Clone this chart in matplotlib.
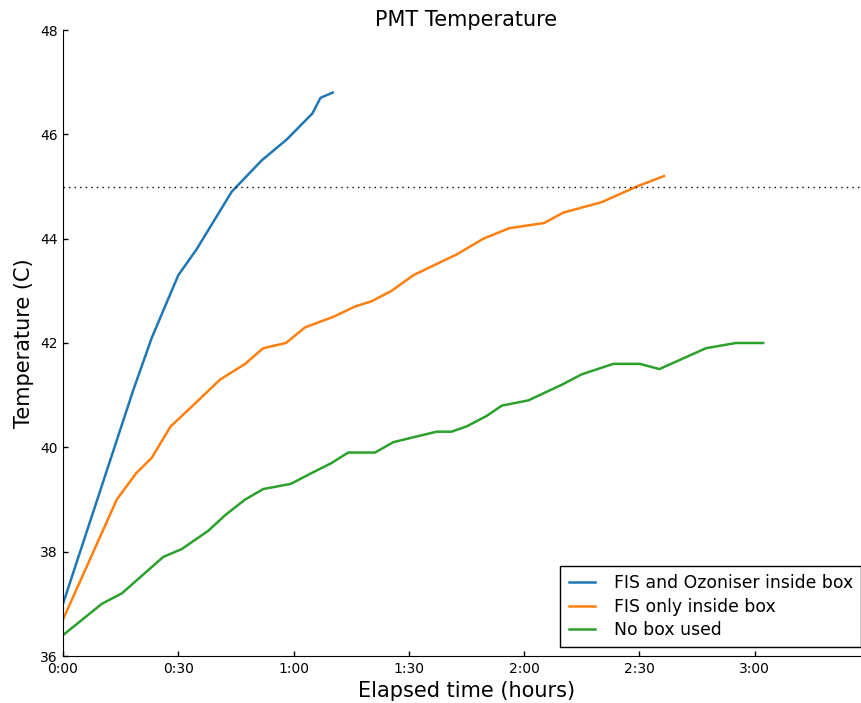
import matplotlib
matplotlib.use("Agg")
import matplotlib.pyplot as plt
from matplotlib.ticker import FuncFormatter, FixedLocator, MultipleLocator

# Data (elapsed minutes, temperature C)
t_ozon = [0, 18.3, 23.1, 30.0, 34.8, 43.9, 51.7, 58.2, 64.9, 67.0, 70.2]
T_ozon = [37.0, 41.1, 42.1, 43.3, 43.8, 44.9, 45.5, 45.9, 46.4, 46.7, 46.8]

t_fis = [0, 14.0, 19.0, 23.1, 28.0, 34.5, 40.9, 47.4, 52.1, 58.0, 63.0, 70.3,
         76.0, 80.3, 85.5, 91.2, 96.8, 102.5, 109.4, 116.1, 125.2, 130.2,
         140.2, 149.3, 156.4]
T_fis = [36.7, 39.0, 39.5, 39.8, 40.4, 40.85, 41.3, 41.6, 41.9, 42.0, 42.3, 42.5,
         42.7, 42.8, 43.0, 43.3, 43.5, 43.7, 44.0, 44.2, 44.3, 44.5,
         44.7, 45.0, 45.2]

t_nobox = [0, 10.1, 15.3, 20.7, 26.1, 30.9, 37.8, 42.2, 47.4, 52.1, 59.3, 64.5,
           69.9, 74.2, 81.2, 86.0, 91.6, 97.2, 101.1, 105.0, 110.2, 114.2,
           121.1, 129.8, 135.0, 143.2, 150.1, 155.2, 167.3, 175.1, 182.2]
T_nobox = [36.4, 37.0, 37.2, 37.55, 37.9, 38.05, 38.4, 38.7, 39.0, 39.2, 39.3, 39.5,
           39.7, 39.9, 39.9, 40.1, 40.2, 40.3, 40.3, 40.4, 40.6, 40.8,
           40.9, 41.2, 41.4, 41.6, 41.6, 41.5, 41.9, 42.0, 42.0]

labels = ["FIS and Ozoniser inside box", "FIS only inside box", "No box used"]
x_ticks = [0, 30, 60, 90, 120, 150, 180]
threshold = 45

fig = plt.figure(figsize=(8.61, 7.03), dpi=100)
ax = fig.add_axes([63/861, 47/703, 807/861, 626/703])

ax.plot(t_ozon, T_ozon, color="#1f77b4", lw=1.8, label=labels[0])
ax.plot(t_fis, T_fis, color="#ff7f0e", lw=1.8, label=labels[1])
ax.plot(t_nobox, T_nobox, color="#2ca02c", lw=1.8, label=labels[2])
ax.axhline(threshold, color="black", lw=1, ls=(0, (1, 3)))

ax.set_xlim(0, 210)
ax.set_ylim(36, 48)
ax.xaxis.set_major_locator(FixedLocator(x_ticks))
ax.yaxis.set_major_locator(MultipleLocator(2))
ax.xaxis.set_major_formatter(FuncFormatter(lambda v, p: f"{int(v)//60}:{int(v)%60:02d}"))

for s in ["top", "right"]:
    ax.spines[s].set_visible(False)
ax.tick_params(direction="in", length=3.5, width=1, labelsize=10, pad=4,
               top=False, right=False)

ax.set_title("PMT Temperature", fontsize=15, pad=3)
ax.set_xlabel("Elapsed time (hours)", fontsize=15, labelpad=4)
ax.set_ylabel("Temperature (C)", fontsize=15, labelpad=4)

leg = ax.legend(loc="lower right", fontsize=12.4, fancybox=False, framealpha=1,
                edgecolor="black", handlelength=1.5, handletextpad=1.1,
                labelspacing=0.3, borderpad=0.5, borderaxespad=0.5)
leg.get_frame().set_linewidth(1)

fig.savefig("out.png", dpi=100)
